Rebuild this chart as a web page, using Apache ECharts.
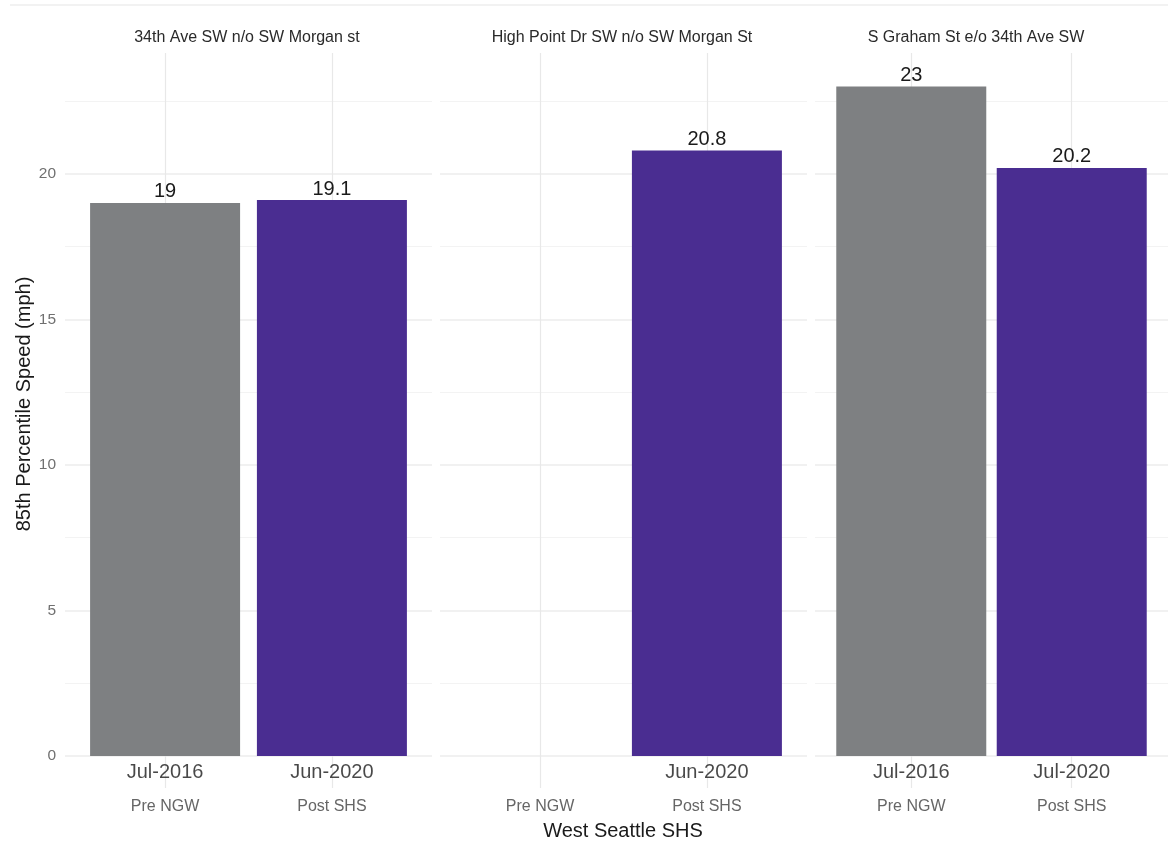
<!DOCTYPE html>
<html>
<head>
<meta charset="utf-8">
<title>West Seattle SHS - 85th Percentile Speed</title>
<script src="https://cdn.jsdelivr.net/npm/echarts@6/dist/echarts.min.js"></script>
<style>
  html, body { margin: 0; padding: 0; background: #ffffff; }
  #chart { width: 1168px; height: 844px; }
</style>
</head>
<body>
<div id="chart"></div>
<script>
// Count locations (one facet each)
const sites = [
  '34th Ave SW n/o SW Morgan st',
  'High Point Dr SW n/o SW Morgan St',
  'S Graham St e/o 34th Ave SW'
];
// Study periods on each facet's x axis
const periods = ['Pre NGW', 'Post SHS'];
// 85th percentile speeds (mph); null where no count was taken
const preSpeeds = [19, null, 23];
const postSpeeds = [19.1, 20.8, 20.2];
// Count month shown under each bar
const preDates = ['Jul-2016', null, 'Jul-2016'];
const postDates = ['Jun-2020', 'Jun-2020', 'Jul-2020'];
// Y axis ticks and minor grid positions
const yTicks = [0, 5, 10, 15, 20];
const yMinorTicks = [2.5, 7.5, 12.5, 17.5, 22.5];

const PRE_COLOR = '#7e8082';
const POST_COLOR = '#4a2d91';
const FONT = '"Liberation Sans", Arial, Helvetica, sans-serif';
const GRID_MAJOR = '#ececec';
const GRID_MINOR = '#f3f3f3';

// Scale extents (discrete positions 1..2 padded by 0.6 on each side)
const X_MIN = 0.4, X_MAX = 2.6;
const Y_MIN = -1.1, Y_MAX = 24.15;
const DATE_Y = -0.55;

// Facet panel geometry
const panelLeft = [65, 440, 815];
const panelWidth = 367;
const panelTop = 53;
const panelHeight = 735;
const stripCenters = [247, 622, 976];

const grids = [], xAxes = [], yAxes = [], series = [];

sites.forEach((site, i) => {
  grids.push({ left: panelLeft[i], top: panelTop, width: panelWidth, height: panelHeight, containLabel: false });

  xAxes.push({
    type: 'value', gridIndex: i, min: X_MIN, max: X_MAX,
    axisLine: { show: false }, axisTick: { show: false }, splitLine: { show: false },
    axisLabel: {
      customValues: [1, 2],
      formatter: v => periods[Math.round(v) - 1] || '',
      color: '#666666', fontSize: 16, fontFamily: FONT, margin: 11
    }
  });

  yAxes.push({
    type: 'value', gridIndex: i, min: Y_MIN, max: Y_MAX,
    axisLine: { show: false }, axisTick: { show: false }, splitLine: { show: false },
    axisLabel: {
      show: i === 0,
      customValues: yTicks,
      color: '#707070', fontSize: 15.5, fontFamily: FONT, margin: 9
    }
  });

  // Panel grid lines, kept beneath the bars
  const gridLines = [];
  yMinorTicks.forEach(v => gridLines.push({ yAxis: v, lineStyle: { color: GRID_MINOR, width: 1, type: 'solid' } }));
  yTicks.forEach(v => gridLines.push({ yAxis: v, lineStyle: { color: GRID_MAJOR, width: 1.6, type: 'solid' } }));
  [1, 2].forEach(v => gridLines.push({ xAxis: v, lineStyle: { color: '#e8e8e8', width: 1.2, type: 'solid' } }));

  series.push({
    type: 'line', xAxisIndex: i, yAxisIndex: i, data: [], z: 1, silent: true,
    markLine: { z: 1, symbol: ['none', 'none'], silent: true, animation: false, label: { show: false }, data: gridLines }
  });

  // Speed bars
  const barData = [];
  if (preSpeeds[i] != null) barData.push({ value: [1, preSpeeds[i]], itemStyle: { color: PRE_COLOR } });
  if (postSpeeds[i] != null) barData.push({ value: [2, postSpeeds[i]], itemStyle: { color: POST_COLOR } });

  series.push({
    type: 'bar', xAxisIndex: i, yAxisIndex: i, z: 10,
    barWidth: 150,
    data: barData,
    label: {
      show: true, position: 'top', distance: 1,
      formatter: p => String(p.value[1]),
      color: '#1a1a1a', fontSize: 20, fontFamily: FONT
    },
    animation: false
  });

  // Count month text under each bar
  const dateData = [];
  if (preDates[i]) dateData.push([1, DATE_Y, preDates[i]]);
  if (postDates[i]) dateData.push([2, DATE_Y, postDates[i]]);

  series.push({
    type: 'scatter', xAxisIndex: i, yAxisIndex: i, z: 11, silent: true,
    symbolSize: 1, itemStyle: { color: 'rgba(0,0,0,0)' },
    data: dateData,
    label: {
      show: true, position: 'inside',
      formatter: p => p.value[2],
      color: '#1a1a1a', fontSize: 20, fontFamily: FONT
    },
    animation: false
  });
});

const graphics = [
  { type: 'line', shape: { x1: 10, y1: 5, x2: 1168, y2: 5 }, style: { stroke: '#f2f2f2', lineWidth: 2 }, silent: true },
  {
    type: 'text', x: 24, y: 404, rotation: Math.PI / 2, silent: true,
    style: { text: '85th Percentile Speed (mph)', fill: '#1a1a1a', fontSize: 20, fontFamily: FONT, align: 'center', verticalAlign: 'middle' }
  },
  {
    type: 'text', x: 623, y: 831, silent: true,
    style: { text: 'West Seattle SHS', fill: '#1a1a1a', fontSize: 20, fontFamily: FONT, align: 'center', verticalAlign: 'middle' }
  }
];
sites.forEach((site, i) => {
  graphics.push({
    type: 'text', x: stripCenters[i], y: 38, silent: true,
    style: { text: site, fill: '#2a2a2a', fontSize: 16, fontFamily: FONT, align: 'center', verticalAlign: 'middle' }
  });
});

const chart = echarts.init(document.getElementById('chart'), null, { renderer: 'canvas' });
chart.setOption({
  backgroundColor: '#ffffff',
  animation: false,
  grid: grids,
  xAxis: xAxes,
  yAxis: yAxes,
  series: series,
  graphic: graphics
});
</script>
</body>
</html>
